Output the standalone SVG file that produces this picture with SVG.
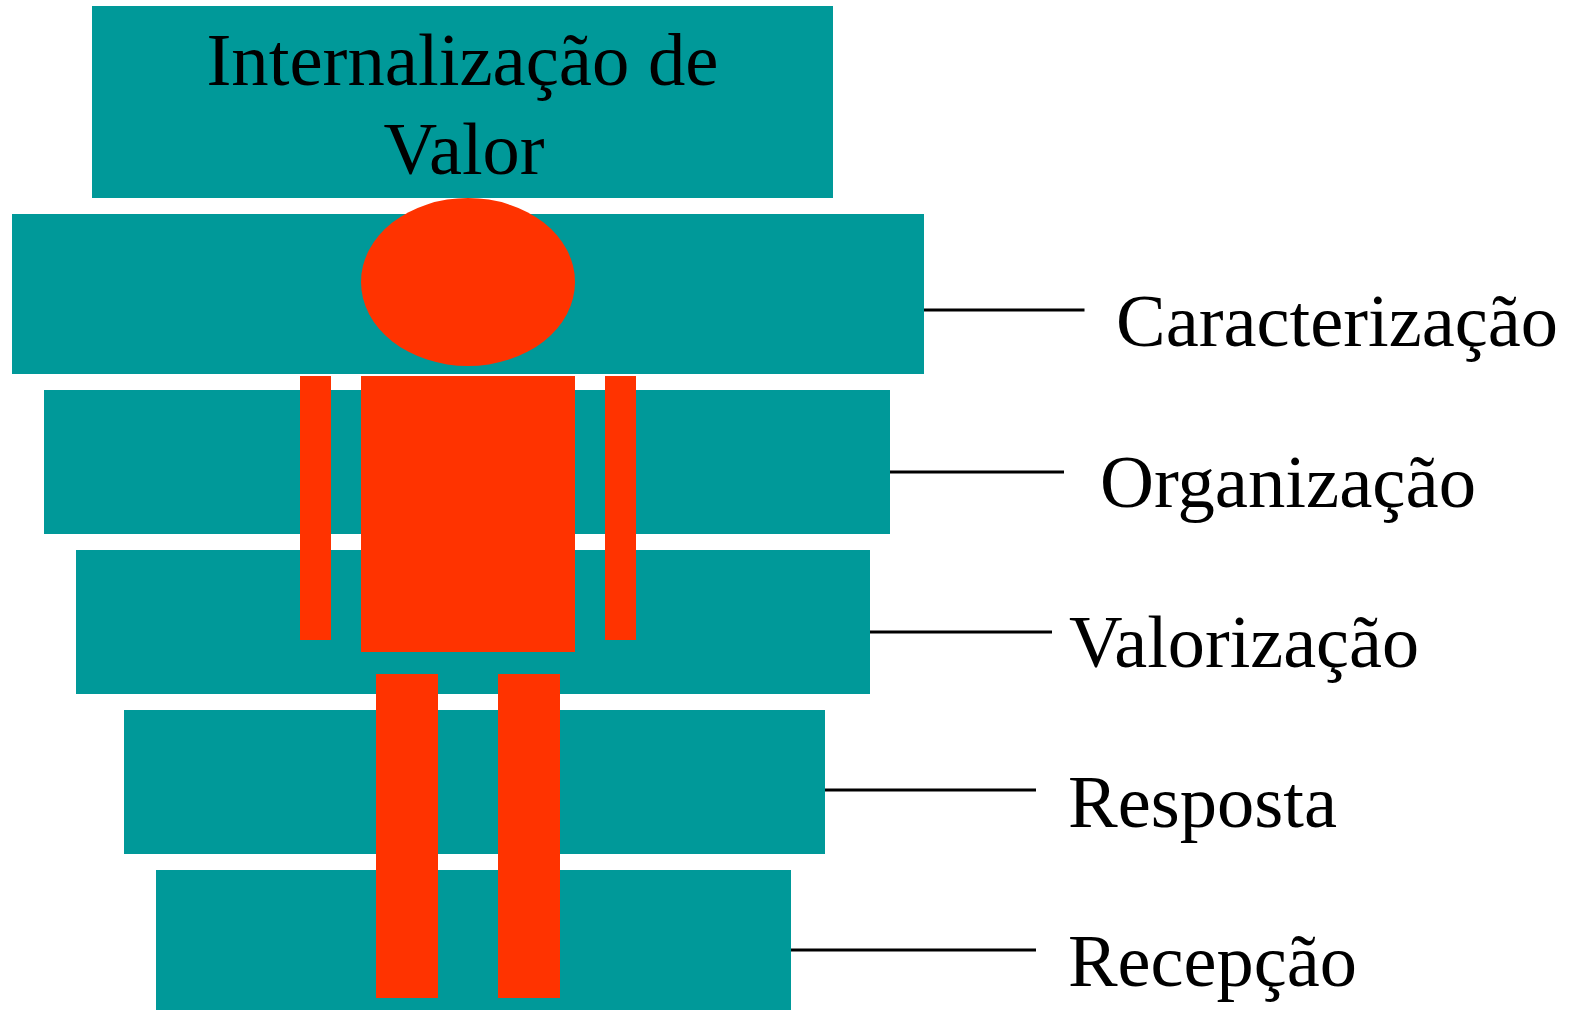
<svg xmlns="http://www.w3.org/2000/svg" width="1570" height="1010" viewBox="0 0 1570 1010">
<style>
.b{fill:#009999}
.r{fill:#ff3300}
.t{font-family:"Liberation Serif","Times New Roman",serif;font-size:75px;fill:#000}
.l{stroke:#000;stroke-width:3;fill:none}
</style>
<rect width="1570" height="1010" fill="#fff"/>
<g id="level-internalizacao"><rect class="b" x="92" y="6" width="741" height="192"/>
<text class="t" x="462.500" y="85" text-anchor="middle" textLength="512" lengthAdjust="spacingAndGlyphs">Internalização de</text>
<text class="t" x="464" y="174" text-anchor="middle" textLength="161" lengthAdjust="spacingAndGlyphs">Valor</text></g>
<g id="level-caracterizacao"><rect class="b" x="12" y="214" width="912" height="160"/></g>
<g id="level-organizacao"><rect class="b" x="44" y="390" width="846" height="144"/></g>
<g id="level-valorizacao"><rect class="b" x="76" y="550" width="794" height="144"/></g>
<g id="level-resposta"><rect class="b" x="124" y="710" width="701" height="144"/></g>
<g id="level-recepcao"><rect class="b" x="156" y="870" width="635" height="140"/></g>
<g id="figure">
<ellipse class="r" cx="468" cy="282" rx="107" ry="84"/>
<rect class="r" x="361" y="376" width="214" height="276"/>
<rect class="r" x="300" y="376" width="31" height="264"/>
<rect class="r" x="605" y="376" width="31" height="264"/>
<rect class="r" x="376" y="674" width="62" height="324"/>
<rect class="r" x="498" y="674" width="62" height="324"/>
</g>
<g id="connectors">
<line class="l" x1="924" y1="310" x2="1084.500" y2="310"/>
<line class="l" x1="890" y1="472" x2="1064" y2="472"/>
<line class="l" x1="870" y1="632" x2="1052" y2="632"/>
<line class="l" x1="825" y1="790" x2="1036" y2="790"/>
<line class="l" x1="791" y1="950" x2="1036" y2="950"/>
</g>
<g id="labels">
<text class="t" x="1116" y="346" textLength="442" lengthAdjust="spacingAndGlyphs">Caracterização</text>
<text class="t" x="1100" y="507" textLength="376" lengthAdjust="spacingAndGlyphs">Organização</text>
<text class="t" x="1069" y="667" textLength="350" lengthAdjust="spacingAndGlyphs">Valorização</text>
<text class="t" x="1068" y="827" textLength="269" lengthAdjust="spacingAndGlyphs">Resposta</text>
<text class="t" x="1068" y="986" textLength="289" lengthAdjust="spacingAndGlyphs">Recepção</text>
</g>
</svg>
